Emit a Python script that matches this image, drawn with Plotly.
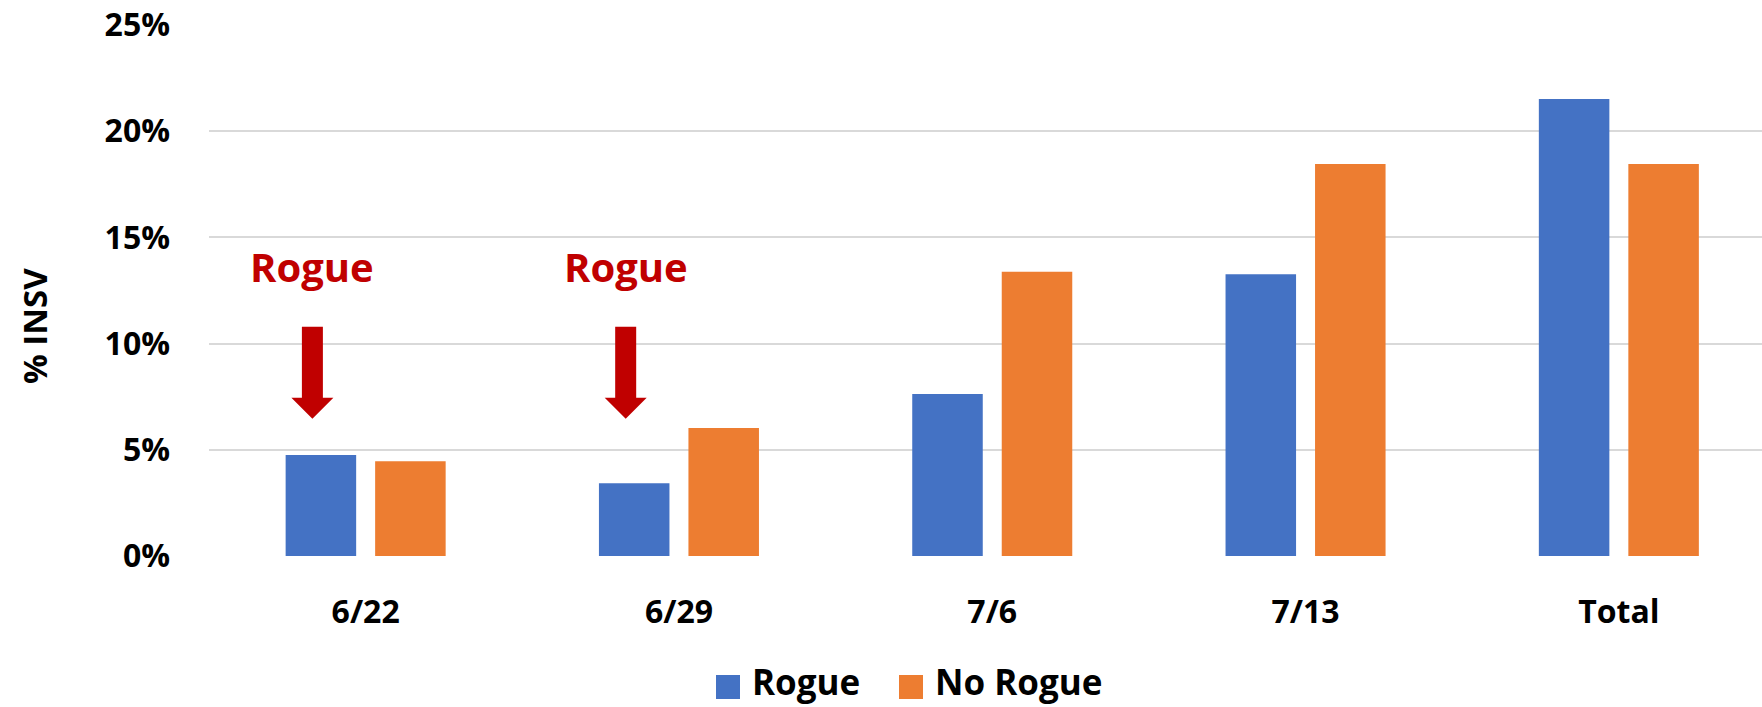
import plotly.graph_objects as go

# Weekly share of INSV, with and without rogue removal
weeks = ["6/22", "6/29", "7/6", "7/13", "Total"]
rogue = [4.76, 3.43, 7.63, 13.27, 21.52]
no_rogue = [4.46, 6.03, 13.38, 18.46, 18.46]
series_names = ["Rogue", "No Rogue"]
series_colors = ["#4472C4", "#ED7D31"]
y_ticks = [0, 5, 10, 15, 20, 25]
y_tick_text = ["0%", "5%", "10%", "15%", "20%", "25%"]
rogue_weeks = ["6/22", "6/29"]

W, H = 1762, 707
ML, MR, MT, MB = 209, 0, 25, 151
PW, PH = W - ML - MR, H - MT - MB
CAT_PX = 313.3  # pixel width of one category band

FONT = "Open Sans"
BLACK = "#000000"
RED = "#C00000"

fig = go.Figure()
for name, vals, color in zip(series_names, [rogue, no_rogue], series_colors):
    fig.add_trace(go.Bar(x=weeks, y=vals, name=name, marker=dict(color=color, line=dict(width=0)),
                         showlegend=False))

# "Rogue" callouts with block arrows above the first two weeks
shapes = []
annotations = []
arrow_path = "M-10.5,92 L10.5,92 L10.5,21 L21,21 L0,0 L-21,21 L-10.5,21 Z"
for wk in rogue_weeks:
    xi = weeks.index(wk) - 0.17
    annotations.append(dict(x=xi, y=13.65, xref="x", yref="y", text="Rogue", showarrow=False,
                            font=dict(family=FONT, size=40, color=RED, weight="bold"),
                            xanchor="center", yanchor="middle"))
    shapes.append(dict(type="path", xref="x", yref="y", xsizemode="pixel", ysizemode="pixel",
                       xanchor=xi, yanchor=6.46, path=arrow_path,
                       fillcolor=RED, line=dict(width=0)))

# y-axis title
annotations.append(dict(x=(35 - ML) / PW, y=(H - MB - 326) / PH, xref="paper", yref="paper",
                        text="% INSV", textangle=-90, showarrow=False,
                        font=dict(family=FONT, size=33, color=BLACK, weight="bold"),
                        xanchor="center", yanchor="middle"))

# legend drawn below the axis: colour square + label per series
leg_items = [(716, 750), (899, 933)]
leg_cy = 687
for (sq_x, tx_x), name, color in zip(leg_items, series_names, series_colors):
    shapes.append(dict(type="rect", xref="paper", yref="paper",
                       x0=(sq_x - ML) / PW, x1=(sq_x + 24 - ML) / PW,
                       y0=(H - MB - (leg_cy + 12)) / PH, y1=(H - MB - (leg_cy - 12)) / PH,
                       fillcolor=color, line=dict(width=0)))
    annotations.append(dict(x=(tx_x - ML) / PW, y=(H - MB - H) / PH, xref="paper", yref="paper",
                            text=name, showarrow=False, xanchor="left", yanchor="bottom",
                            font=dict(family=FONT, size=35, color=BLACK, weight="bold")))

fig.update_layout(
    width=W, height=H,
    margin=dict(l=ML, r=MR, t=MT, b=MB, pad=0),
    paper_bgcolor="white", plot_bgcolor="white",
    barmode="group", bargap=0.4287, bargroupgap=0.212,
    shapes=shapes, annotations=annotations,
    font=dict(family=FONT, color=BLACK),
)
fig.update_xaxes(
    range=[-0.5, -0.5 + PW / CAT_PX], showgrid=False, zeroline=False, showline=False,
    ticks="", ticklabelstandoff=34,
    tickfont=dict(family=FONT, size=32, color=BLACK, weight="bold"),
)
fig.update_yaxes(
    range=[0, 25], tickvals=y_ticks, ticktext=y_tick_text,
    showgrid=True, gridcolor="#D9D9D9", gridwidth=2, zeroline=False, showline=False,
    ticks="", ticklabelstandoff=38,
    tickfont=dict(family=FONT, size=32, color=BLACK, weight="bold"),
)

fig.write_html("out.html")
